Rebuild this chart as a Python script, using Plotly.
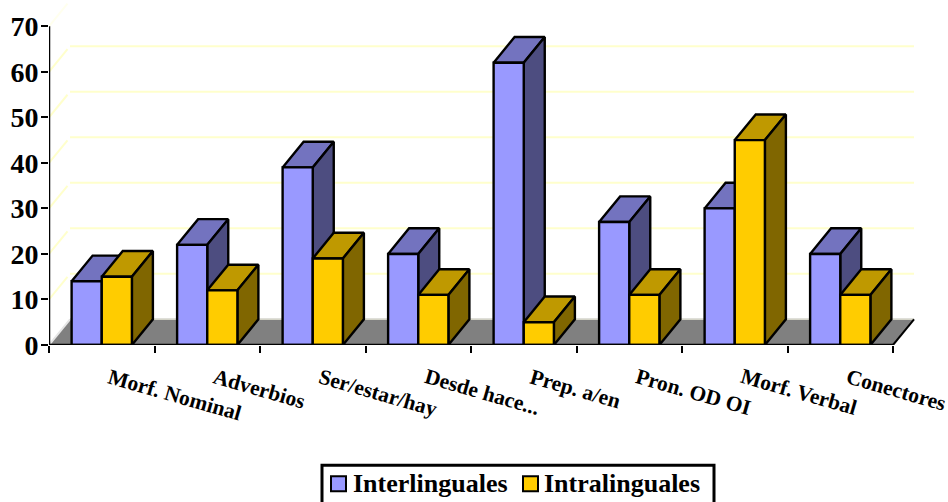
import plotly.graph_objects as go

categories = ["Morf. Nominal", "Adverbios", "Ser/estar/hay", "Desde hace...",
              "Prep. a/en", "Pron. OD OI", "Morf. Verbal", "Conectores"]
interlinguales = [14, 22, 39, 20, 62, 27, 30, 20]
intralinguales = [15, 12, 19, 11, 5, 11, 45, 11]
value_ticks = [0, 10, 20, 30, 40, 50, 60, 70]

FONT = "Liberation Serif"
INK = "#000000"
GRID = "#FFFFCC"

# Plot frame in page pixels; the axes run past the ticks so that the
# receding walls and floor stay inside the drawing area
LEFT_PX = 49
BASE_PX = 345.5
PAGE_W = 948
PAGE_H = 502
CATEGORY_PX = 105.5
UNIT_PX = 4.56

# Oblique projection of the depth axis, in axis units
DEPTH_X = 21 / CATEGORY_PX
DEPTH_Y = 25.7 / UNIT_PX

# Two bars per category with a gap of 1.5 bar widths
BAR_W = 1 / 3.5
BAR_START = 0.75 * BAR_W

SERIES = [
    ("Interlinguales", interlinguales, "#9999FF", "#7373BF", "#4D4D80"),
    ("Intralinguales", intralinguales, "#FFCC00", "#BF9900", "#806600"),
]

fig = go.Figure()


def polygon(xs, ys, fill, line=INK, width=2.4):
    fig.add_trace(go.Scatter(
        x=xs + xs[:1], y=ys + ys[:1], mode="lines", fill="toself",
        fillcolor=fill, line=dict(color=line, width=width, simplify=False),
        hoverinfo="skip", showlegend=False,
    ))


def edge(xs, ys, color, width=2):
    fig.add_trace(go.Scatter(
        x=xs, y=ys, mode="lines", line=dict(color=color, width=width),
        hoverinfo="skip", showlegend=False,
    ))


def paper_x(px):
    return (px - LEFT_PX) / (PAGE_W - LEFT_PX)


def paper_y(px):
    return (BASE_PX - px) / BASE_PX


n = len(categories)

# Back wall grid with the short returns along the side wall; the top line
# falls on the page edge, so only its return shows, and faintly
for v in value_ticks[1:-1]:
    edge([0, DEPTH_X * 0.88], [v, v + DEPTH_Y * 0.88], GRID)
    edge([DEPTH_X, n + DEPTH_X], [v + DEPTH_Y, v + DEPTH_Y], GRID)
edge([0, DEPTH_X * 0.88], [value_ticks[-1], value_ticks[-1] + DEPTH_Y * 0.88], "#FFFFEE")

# Floor
polygon([0, n, n + DEPTH_X, DEPTH_X], [0, 0, DEPTH_Y, DEPTH_Y], "#808080", "#808080", 1)
edge([0, DEPTH_X], [0, DEPTH_Y], "#E6E6E6", 2)
edge([DEPTH_X, n + DEPTH_X], [DEPTH_Y, DEPTH_Y], "#D4D4C8", 1.5)
edge([n, n + DEPTH_X], [0, DEPTH_Y], INK, 2)

# Bars, back faces first so the front face sits on top
for i in range(n):
    for s, (name, values, front, top, side) in enumerate(SERIES):
        x0 = i + BAR_START + s * BAR_W
        x1 = x0 + BAR_W
        v = values[i]
        polygon([x0, x1, x1 + DEPTH_X, x0 + DEPTH_X], [v, v, v + DEPTH_Y, v + DEPTH_Y], top)
        polygon([x1, x1 + DEPTH_X, x1 + DEPTH_X, x1], [0, DEPTH_Y, v + DEPTH_Y, v], side)
        polygon([x0, x1, x1, x0], [0, 0, v, v], front)

# Axis lines stop at the last tick
edge([0, 0], [0, value_ticks[-1]], INK, 2.5)
edge([0, n], [0, 0], INK, 2.5)

# Slanted category labels
annotations = [
    dict(x=i + 0.5, y=0, xref="x", yref="y", text=f"<b>{c}</b>", showarrow=False,
         xanchor="left", yanchor="top", textangle=16, xshift=1, yshift=-17,
         font=dict(family=FONT, size=21.5, color=INK))
    for i, c in enumerate(categories)
]

# Legend box with its two keys
shapes = [
    dict(type="rect", xref="paper", yref="paper",
         x0=paper_x(322), x1=paper_x(714), y0=paper_y(466), y1=paper_y(505),
         line=dict(color=INK, width=3), fillcolor="white"),
]
for (name, values, front, top, side), key_px, text_px in zip(SERIES, (331, 523), (351, 542)):
    shapes.append(dict(type="rect", xref="paper", yref="paper",
                       x0=paper_x(key_px), x1=paper_x(key_px + 15),
                       y0=paper_y(477), y1=paper_y(492),
                       line=dict(color=INK, width=2), fillcolor=front))
    annotations.append(dict(x=paper_x(text_px), y=paper_y(484), xref="paper", yref="paper",
                            text=f"<b>{name}</b>", showarrow=False,
                            xanchor="left", yanchor="middle",
                            font=dict(family=FONT, size=26, color=INK)))

fig.update_layout(
    width=PAGE_W, height=PAGE_H,
    margin=dict(l=LEFT_PX, r=0, t=0, b=PAGE_H - BASE_PX, pad=0, autoexpand=False),
    paper_bgcolor="white", plot_bgcolor="rgba(0,0,0,0)",
    annotations=annotations, shapes=shapes, showlegend=False,
    xaxis=dict(range=[0, (PAGE_W - LEFT_PX) / CATEGORY_PX], tickvals=list(range(n + 1)),
               showgrid=False, zeroline=False, showline=False,
               ticks="outside", ticklen=7, tickwidth=2, tickcolor=INK,
               showticklabels=False),
    yaxis=dict(range=[0, BASE_PX / UNIT_PX], tickvals=value_ticks, showgrid=False,
               zeroline=False, showline=False,
               ticks="outside", ticklen=7, tickwidth=2, tickcolor=INK,
               ticklabelstandoff=-3,
               tickfont=dict(family=FONT, size=28, color=INK, weight="bold")),
)

fig.write_html("out.html")
